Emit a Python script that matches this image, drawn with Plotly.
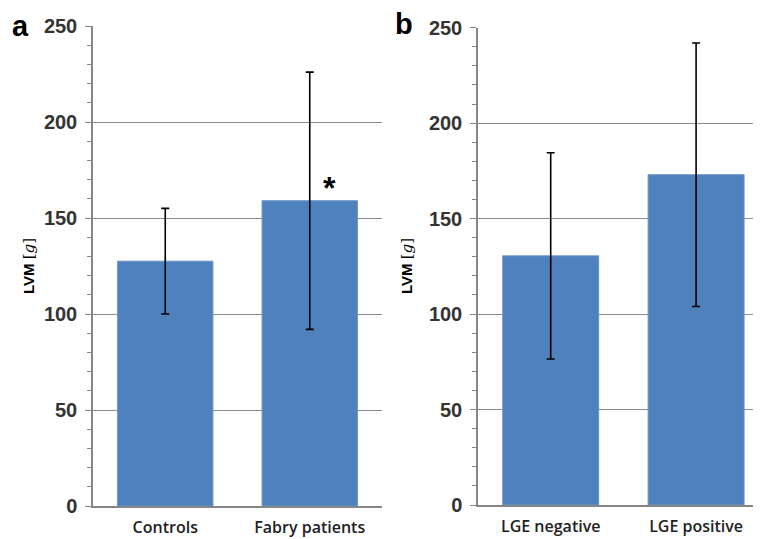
import plotly.graph_objects as go

# Data
cats_a = ["Controls", "Fabry patients"]
vals_a = [127.5, 159]
err_a = [27.5, 67]

cats_b = ["LGE negative", "LGE positive"]
vals_b = [130.5, 173]
err_b = [54, 69]

y_ticks = [0, 50, 100, 150, 200, 250]

OFF = 8  # page body margin
W, H = 761 - OFF, 539 - OFF
BAR = "#4F81BD"
GRID = "#8c8c8c"
AX = "#868686"
TXT = "#222222"

fig = go.Figure()
fig.add_trace(go.Bar(x=cats_a, y=vals_a, marker=dict(color=BAR, line=dict(color="#6a95cb", width=1)),
                     error_y=dict(type="data", array=err_a, color="black", thickness=1.6, width=4),
                     xaxis="x", yaxis="y", showlegend=False))
fig.add_trace(go.Bar(x=cats_b, y=vals_b, marker=dict(color=BAR, line=dict(color="#6a95cb", width=1)),
                     error_y=dict(type="data", array=err_b, color="black", thickness=1.6, width=4),
                     xaxis="x2", yaxis="y2", showlegend=False))

def px_x(p):
    return (p - OFF) / W

def px_y(p):
    return (H - (p - OFF)) / H

yax = dict(range=[0, 250], tickvals=y_ticks, showgrid=True, gridcolor=GRID, gridwidth=1.3,
           showline=True, linecolor=AX, linewidth=1.5, ticks="outside", ticklen=6, tickcolor=AX,
           tickwidth=1.3,
           minor=dict(dtick=10, ticks="outside", ticklen=4, tickcolor=AX, tickwidth=1, showgrid=False),
           tickfont=dict(family="Liberation Sans", size=20, color="#333333", weight="bold"),
           ticklabelstandoff=4, zeroline=False, automargin=False, fixedrange=True)
xax = dict(showline=True, linecolor=AX, linewidth=1.5, ticks="", showgrid=False,
           tickfont=dict(family="Open Sans", size=16, color=TXT, weight=600),
           ticklabelstandoff=6, automargin=False, fixedrange=True)

fig.update_layout(
    width=W, height=H,
    margin=dict(l=0, r=0, t=0, b=0, pad=0),
    paper_bgcolor="white", plot_bgcolor="white",
    bargap=0.34,
    xaxis=dict(xax, domain=[px_x(93), px_x(382)], anchor="y", range=[-0.5, 1.5]),
    yaxis=dict(yax, domain=[px_y(506), px_y(26)], anchor="x"),
    xaxis2=dict(xax, domain=[px_x(478), 1.0], anchor="y2", range=[-0.5, -0.5 + (761 - 478) / 145.4]),
    yaxis2=dict(yax, domain=[px_y(505), px_y(27.7)], anchor="x2"),
)

ylab = "LVM <span style='font-family:DejaVu Serif;font-weight:normal;font-size:15px'>[<i>g</i>]</span>"
ann = [
    dict(text="<b>a</b>", x=px_x(20), y=px_y(26), xref="paper", yref="paper", showarrow=False,
         font=dict(family="Liberation Sans", size=29, color="black"), xanchor="center", yanchor="middle"),
    dict(text="<b>b</b>", x=px_x(404), y=px_y(24), xref="paper", yref="paper", showarrow=False,
         font=dict(family="Liberation Sans", size=29, color="black"), xanchor="center", yanchor="middle"),
    dict(text="<b>" + ylab + "</b>", x=px_x(29), y=px_y(266), xref="paper", yref="paper", showarrow=False,
         textangle=-90, font=dict(family="Liberation Sans", size=15, color="black"),
         xanchor="center", yanchor="middle"),
    dict(text="<b>" + ylab + "</b>", x=px_x(407), y=px_y(266), xref="paper", yref="paper", showarrow=False,
         textangle=-90, font=dict(family="Liberation Sans", size=15, color="black"),
         xanchor="center", yanchor="middle"),
    dict(text="<b>*</b>", x=cats_a[1], y=vals_a[1], xref="x", yref="y", showarrow=False,
         xshift=20, yshift=-7, yanchor="bottom",
         font=dict(family="Liberation Sans", size=32, color="black")),
]
fig.update_layout(annotations=ann)

fig.write_html("out.html")
